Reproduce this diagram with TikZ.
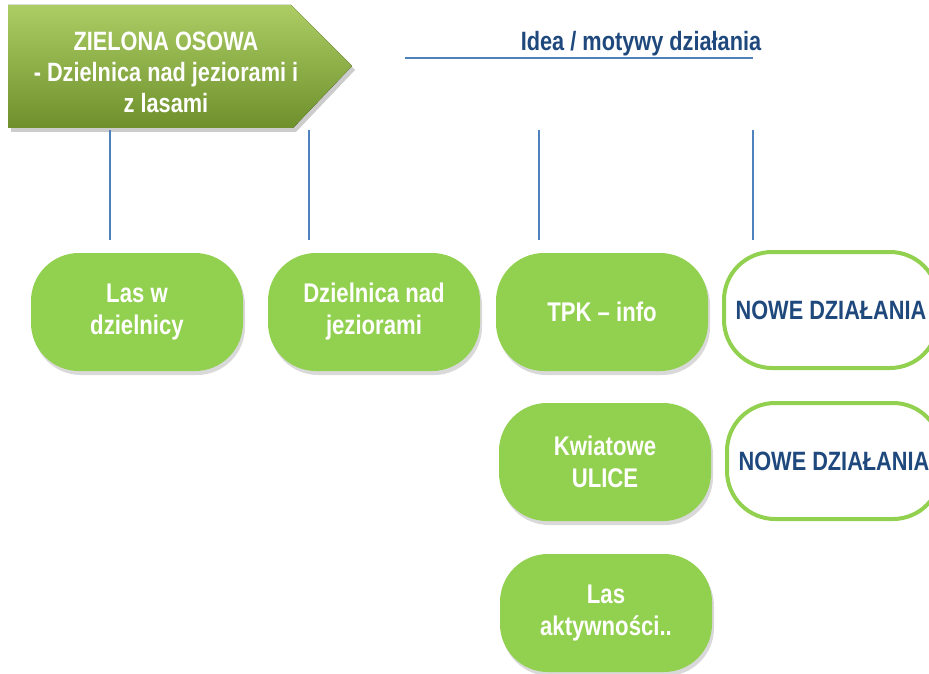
\documentclass[tikz,border=0pt]{standalone}
\usepackage{fontspec}
\setmainfont{Liberation Sans}[FakeStretch=0.82]
\usetikzlibrary{shadows}
\definecolor{leafgreen}{RGB}{146,208,80}
\definecolor{linkblue}{RGB}{79,129,189}
\definecolor{textblue}{RGB}{31,73,125}
\definecolor{headtop}{RGB}{172,205,100}
\definecolor{headbot}{RGB}{110,144,44}

\begin{document}
\begin{tikzpicture}[x=1pt,y=-1pt,thick,
  green box/.style={rounded corners=48pt,fill=leafgreen,minimum width=212pt,minimum height=118pt,align=center,text=white,font=\fontsize{27}{32}\selectfont\bfseries,drop shadow={shadow xshift=2pt,shadow yshift=-4pt,opacity=0.3}},
  white box/.style={rounded corners=48pt,draw=leafgreen,line width=4pt,fill=white,minimum width=214pt,minimum height=116pt,align=center,text=textblue,font=\fontsize{26.5}{32}\selectfont\bfseries},
  link/.style={draw=linkblue,line width=1.3pt}]
\useasboundingbox (0,0) rectangle (929,674);
% header arrow
\fill[top color=headtop,bottom color=headbot,drop shadow={shadow xshift=3pt,shadow yshift=-4pt,opacity=0.4}]
  (8,5) -- (291,5) -- (352,66) -- (293,128) -- (8,128) -- cycle;
\node[align=center,text=white,font=\fontsize{26.5}{31}\selectfont\bfseries] (head) at (166,72) {ZIELONA OSOWA\\- Dzielnica nad jeziorami i\\z lasami};
% title
\node[text=textblue,font=\fontsize{26.5}{30}\selectfont\bfseries] (idea) at (641,44) {Idea / motywy działania};
\coordinate (ideaL) at (405,58);
\coordinate (ideaR) at (753,58);
\path[link] (ideaL) edge (ideaR);
% boxes
\node[green box] (las) at (137,312) {Las w\\dzielnicy};
\node[green box] (jez) at (374,312) {Dzielnica nad\\jeziorami};
\node[green box] (tpk) at (602,312) {TPK -- info};
\node[green box] (kwiat) at (605,462) {Kwiatowe\\ULICE};
\node[green box] (aktyw) at (606,613) {Las\\aktywności..};
\node[white box] (nowe1) at (831,310) {NOWE DZIAŁANIA};
\node[white box] (nowe2) at (834,461) {NOWE DZIAŁANIA};
% vertical lines
\coordinate (t1) at (110,130); \coordinate (b1) at (110,240);
\coordinate (t2) at (309,130); \coordinate (b2) at (309,240);
\coordinate (t3) at (539,130); \coordinate (b3) at (539,240);
\coordinate (t4) at (753,130); \coordinate (b4) at (753,240);
\path[link] (t1) edge (b1);
\path[link] (t2) edge (b2);
\path[link] (t3) edge (b3);
\path[link] (t4) edge (b4);
\end{tikzpicture}
\end{document}
